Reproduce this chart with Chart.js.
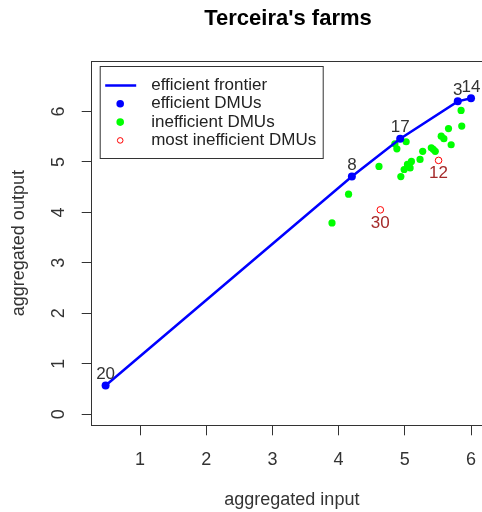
<!DOCTYPE html>
<html>
<head>
<meta charset="utf-8">
<script src="https://cdn.jsdelivr.net/npm/chart.js@4/dist/chart.umd.min.js"></script>
<style>
  html, body { margin: 0; padding: 0; background: #fff; overflow: hidden; }
  #wrap { width: 482px; height: 512px; overflow: hidden; }
</style>
</head>
<body>
<div id="wrap"><canvas id="chart" width="492" height="512"></canvas></div>
<script>
// Terceira's farms - DEA frontier
const xTicks = [1, 2, 3, 4, 5, 6];
const yTicks = [0, 1, 2, 3, 4, 5, 6];

// efficient DMUs (also the frontier, in x order)
const effLabels = ['20', '8', '17', '3', '14'];
const effX = [0.48, 4.20, 4.93, 5.80, 6.00];
const effY = [0.57, 4.71, 5.46, 6.20, 6.26];

// inefficient DMUs
const ineffX = [3.90, 4.15, 4.61, 4.85, 4.88, 5.02, 4.94, 4.99, 5.04, 5.08, 5.10,
                5.23, 5.27, 5.40, 5.46, 5.43, 5.55, 5.59, 5.66, 5.70, 5.86, 5.85];
const ineffY = [3.79, 4.36, 4.91, 5.36, 5.26, 5.40, 4.71, 4.85, 4.95, 4.88, 5.01,
                5.05, 5.21, 5.28, 5.21, 5.25, 5.51, 5.46, 5.66, 5.34, 5.71, 6.02];

// most inefficient DMUs
const worstLabels = ['12', '30'];
const worstX = [5.51, 4.63];
const worstY = [5.03, 4.05];

const legendItems = ['efficient frontier', 'efficient DMUs', 'inefficient DMUs', 'most inefficient DMUs'];
const titleText = "Terceira's farms";

const FONT = 'Liberation Sans, Arial, Helvetica, sans-serif';
const toPoints = (xs, ys) => xs.map((x, i) => ({ x: x, y: ys[i] }));

// R-like box, title, rotated y tick labels, point labels and legend
const rDecor = {
  id: 'rDecor',
  afterDatasetsDraw(chart) {
    const ctx = chart.ctx;
    const a = chart.chartArea;
    const ys = chart.scales.y;
    ctx.save();

    // title, centred over the visible plot region
    ctx.fillStyle = '#000';
    ctx.font = 'bold 22px ' + FONT;
    ctx.textAlign = 'center';
    ctx.textBaseline = 'middle';
    ctx.fillText(titleText, 288, 19);

    // top edge of the box
    ctx.strokeStyle = '#333';
    ctx.lineWidth = 1;
    ctx.beginPath();
    ctx.moveTo(a.left, Math.round(a.top) + 0.5);
    ctx.lineTo(a.right + 5, Math.round(a.top) + 0.5);
    ctx.stroke();

    // y tick labels, rotated like R's default
    ctx.fillStyle = '#333';
    ctx.font = '18px ' + FONT;
    yTicks.forEach(v => {
      const py = ys.getPixelForValue(v);
      ctx.save();
      ctx.translate(59, py);
      ctx.rotate(-Math.PI / 2);
      ctx.fillText(String(v), 0, 0);
      ctx.restore();
    });

    // point labels
    ctx.font = '17px ' + FONT;
    const effMeta = chart.getDatasetMeta(0);
    effMeta.data.forEach((pt, i) => {
      ctx.fillStyle = '#333';
      ctx.fillText(effLabels[i], pt.x, pt.y - 11);
    });
    const worstMeta = chart.getDatasetMeta(2);
    worstMeta.data.forEach((pt, i) => {
      ctx.fillStyle = '#a52a2a';
      ctx.fillText(worstLabels[i], pt.x, pt.y + 13);
    });

    // legend box
    const x0 = a.left + 8.5, y0 = a.top + 5.5;
    ctx.fillStyle = '#fff';
    ctx.fillRect(x0, y0, 223, 92);
    ctx.strokeStyle = '#333';
    ctx.strokeRect(x0, y0, 223, 92);
    const rows = [19, 37.3, 55.6, 73.9];
    // frontier line sample
    ctx.strokeStyle = '#0000ff';
    ctx.lineWidth = 2.5;
    ctx.beginPath();
    ctx.moveTo(x0 + 5, y0 + rows[0]);
    ctx.lineTo(x0 + 36, y0 + rows[0]);
    ctx.stroke();
    // dots
    ctx.fillStyle = '#0000ff';
    ctx.beginPath(); ctx.arc(x0 + 20, y0 + rows[1], 3.8, 0, Math.PI * 2); ctx.fill();
    ctx.fillStyle = '#00ff00';
    ctx.beginPath(); ctx.arc(x0 + 20, y0 + rows[2], 3.8, 0, Math.PI * 2); ctx.fill();
    ctx.strokeStyle = '#ff0000';
    ctx.lineWidth = 1;
    ctx.beginPath(); ctx.arc(x0 + 20, y0 + rows[3], 2.8, 0, Math.PI * 2); ctx.stroke();
    // texts
    ctx.fillStyle = '#222';
    ctx.font = '17px ' + FONT;
    ctx.textAlign = 'left';
    legendItems.forEach((t, i) => ctx.fillText(t, x0 + 51, y0 + rows[i]));

    ctx.restore();
  }
};

const noPad = s => { s.paddingLeft = 0; s.paddingRight = 0; s.paddingTop = 0; s.paddingBottom = 0; };

const ctx = document.getElementById('chart').getContext('2d');
new Chart(ctx, {
  type: 'scatter',
  data: {
    datasets: [
      {
        label: 'efficient DMUs',
        data: toPoints(effX, effY),
        showLine: true,
        borderColor: '#0000ff',
        borderWidth: 2.5,
        backgroundColor: '#0000ff',
        pointBackgroundColor: '#0000ff',
        pointBorderWidth: 0,
        pointRadius: 4,
        order: 0
      },
      {
        label: 'inefficient DMUs',
        data: toPoints(ineffX, ineffY),
        backgroundColor: '#00ff00',
        borderColor: '#00ff00',
        pointBorderWidth: 0,
        pointRadius: 3.6,
        order: 1
      },
      {
        label: 'most inefficient DMUs',
        data: toPoints(worstX, worstY),
        backgroundColor: '#ffffff',
        borderColor: '#ff0000',
        pointBorderWidth: 1,
        pointRadius: 3.3,
        order: 2
      }
    ]
  },
  options: {
    responsive: false,
    animation: false,
    devicePixelRatio: 1,
    layout: { padding: { top: 61, left: 0, right: 0, bottom: 0 }, autoPadding: false },
    plugins: {
      legend: { display: false },
      tooltip: { enabled: false },
      title: { display: false }
    },
    scales: {
      x: {
        type: 'linear',
        min: 0.27,
        max: 6.317,
        afterBuildTicks: s => { s.ticks = xTicks.map(v => ({ value: v })); },
        afterFit: s => { s.height = 86.7; noPad(s); },
        grid: { display: true, drawOnChartArea: false, drawTicks: true, tickLength: 10, color: '#333' },
        border: { display: true, color: '#333', width: 1 },
        ticks: { color: '#333', font: { family: FONT, size: 18 }, padding: 14, maxRotation: 0, autoSkip: false },
        title: {
          display: true,
          text: 'aggregated input',
          color: '#333',
          font: { family: FONT, size: 18, lineHeight: 1.2 },
          padding: { top: 0, bottom: 1 }
        }
      },
      y: {
        type: 'linear',
        min: -0.22,
        max: 7.0,
        afterBuildTicks: s => { s.ticks = yTicks.map(v => ({ value: v })); },
        afterFit: s => { s.width = 91.7; noPad(s); },
        grid: { display: true, drawOnChartArea: false, drawTicks: true, tickLength: 10, color: '#333' },
        border: { display: true, color: '#333', width: 1 },
        ticks: { callback: () => '', font: { family: FONT, size: 18 } },
        title: {
          display: true,
          text: 'aggregated output',
          color: '#333',
          font: { family: FONT, size: 18, lineHeight: 1.2 },
          padding: { top: 8, bottom: 0 }
        }
      }
    }
  },
  plugins: [rDecor]
});
</script>
</body>
</html>
